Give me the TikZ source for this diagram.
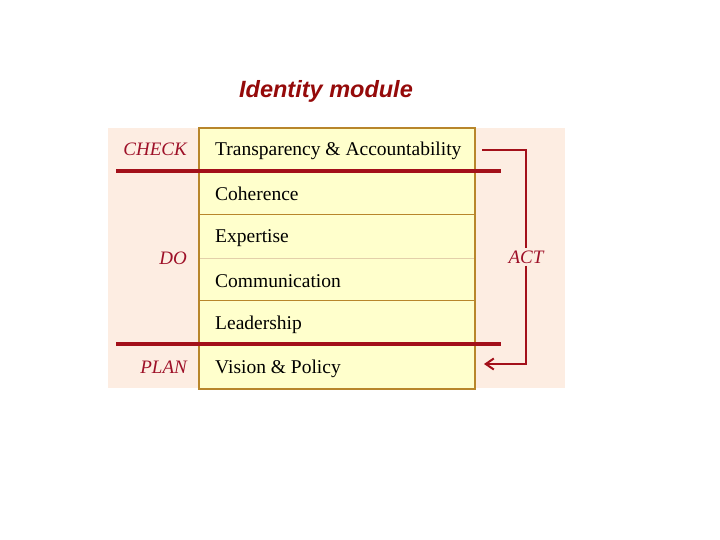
\documentclass[tikz,border=0pt]{standalone}
\usepackage{fontspec}
\setmainfont{Liberation Serif}
\newfontfamily\titlefont{Liberation Sans}
\usetikzlibrary{arrows.meta}
\definecolor{peach}{HTML}{FDEDE2}
\definecolor{paleyel}{HTML}{FFFFCC}
\definecolor{gold}{HTML}{B8862B}
\definecolor{darkred}{HTML}{A3101A}
\definecolor{titlered}{HTML}{950A0A}
\definecolor{lblred}{HTML}{9E1028}
\tikzset{
  rowtext/.style={anchor=west, font=\fontsize{19.5}{22}\selectfont, inner sep=0pt},
  phase/.style={anchor=east, font=\fontsize{19}{22}\selectfont\itshape, text=lblred, inner sep=0pt},
  redline/.style={draw=darkred, line width=3.2pt},
  sepline/.style={draw=gold, line width=0.8pt},
  actline/.style={draw=darkred, line width=2pt},
}
\begin{document}
\begin{tikzpicture}[x=1pt,y=-1pt]
\useasboundingbox (0,0) rectangle (720,540);
\fill[white] (0,0) rectangle (720,540);
\node[font=\titlefont\bfseries\itshape\fontsize{23.5}{26}\selectfont, text=titlered, inner sep=0pt] (title) at (326,91) {Identity module};
\fill[peach] (108,128) rectangle (565,388);
\fill[paleyel] (199,128) rectangle (475,389);
\draw[sepline] (199,214) -- (475,214);
\draw[draw=gold!40, line width=0.6pt] (199,258) -- (475,258);
\draw[sepline] (199,300) -- (475,300);
\draw[draw=gold, line width=2pt] (199,128) rectangle (475,389);
\draw[redline] (116,171) -- (501,171);
\draw[redline] (116,344) -- (501,344);
\node[rowtext] (r1) at (215,151) {Transparency \& Accountability};
\node[rowtext] (r2) at (215,194) {Coherence};
\node[rowtext] (r3) at (215,238) {Expertise};
\node[rowtext] (r4) at (215,281) {Communication};
\node[rowtext] (r5) at (215,325) {Leadership};
\node[rowtext] (r6) at (215,369) {Vision \& Policy};
\node[phase] (check) at (187,149) {CHECK};
\node[phase] (do) at (187,258) {DO};
\node[phase] (plan) at (187,367) {PLAN};
\node[font=\fontsize{19}{22}\selectfont\itshape, text=lblred, inner sep=2pt, fill=peach] (act) at (526,257) {ACT};
\coordinate (s) at (482,150);
\coordinate (c1) at (526,150);
\coordinate (c2) at (526,364);
\coordinate (e) at (484,364);
\draw[actline] (s) -- (c1) -- (act.north);
\draw[actline, -{Straight Barb[length=8pt,width=11pt]}] (act.south) -- (c2) -- (e);
\end{tikzpicture}
\end{document}
